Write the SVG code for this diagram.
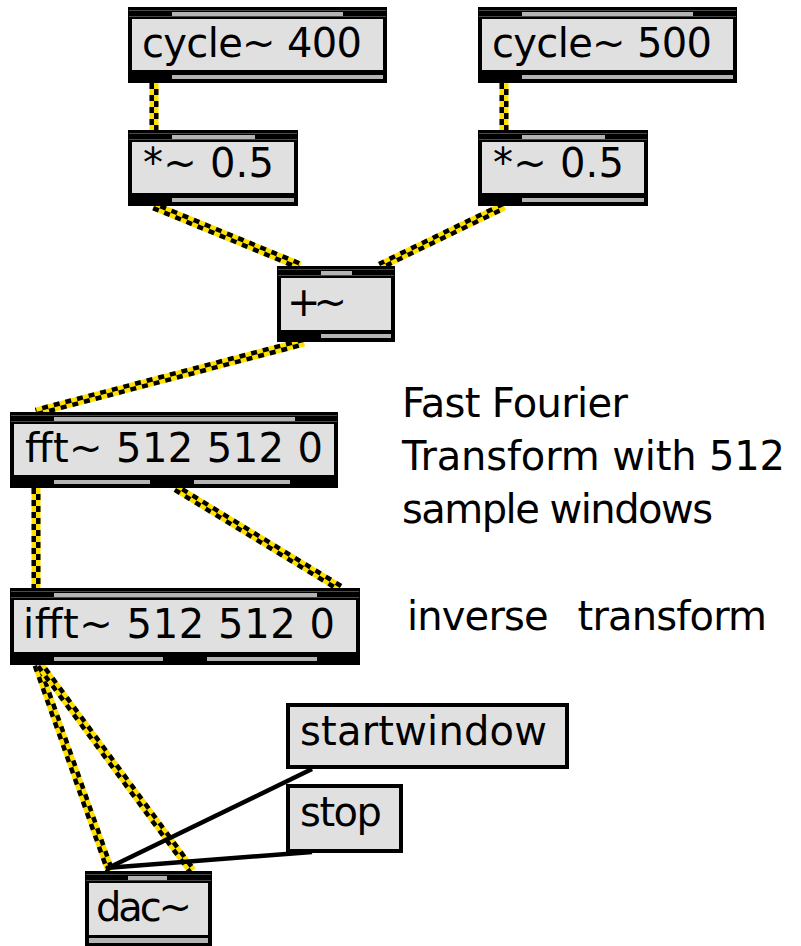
<svg xmlns="http://www.w3.org/2000/svg" width="801" height="946" viewBox="0 0 801 946">
  <style>
    .frame { fill: #000; }
    .body { fill: #e0e0e0; }
    .port { fill: #b4b4b4; }
    .hair { stroke: #4a4a4a; stroke-width: 1; }
    .label { font-family: "DejaVu Sans", "Liberation Sans", sans-serif; font-size: 40px; fill: #000; }
    .sigBase { fill: none; stroke: #ffe100; stroke-width: 9; stroke-linecap: butt; }
    .sigA { fill: none; stroke: #000; stroke-width: 4.5; stroke-dasharray: 6 6; stroke-linecap: butt; }
    .sigB { fill: none; stroke: #000; stroke-width: 4.5; stroke-dasharray: 6 6; stroke-dashoffset: 6; stroke-linecap: butt; }
    .ctl { fill: none; stroke: #000; stroke-width: 4.5; stroke-linecap: butt; }
    .msgbox { fill: #e0e0e0; stroke: #000; stroke-width: 4; }
  </style>
  <rect width="801" height="946" fill="#fff"/>

  <!-- patch cords: signal cords are a yellow band with two offset dashed black halves -->
  <g id="connectors">
    <g id="cord-cycle400-mul">
      <line class="sigBase" x1="154" y1="83" x2="154" y2="130"/>
      <line class="sigA" x1="151.75" y1="83" x2="151.75" y2="130"/>
      <line class="sigB" x1="156.25" y1="83" x2="156.25" y2="130"/>
    </g>
    <g id="cord-cycle500-mul">
      <line class="sigBase" x1="504" y1="83" x2="504" y2="130"/>
      <line class="sigA" x1="501.75" y1="83" x2="501.75" y2="130"/>
      <line class="sigB" x1="506.25" y1="83" x2="506.25" y2="130"/>
    </g>
    <g id="cord-mulL-add">
      <line class="sigBase" x1="154" y1="206" x2="300" y2="266"/>
      <line class="sigA" x1="153.15" y1="208.08" x2="299.15" y2="268.08"/>
      <line class="sigB" x1="154.85" y1="203.92" x2="300.85" y2="263.92"/>
    </g>
    <g id="cord-mulR-add">
      <line class="sigBase" x1="504" y1="206" x2="380" y2="266"/>
      <line class="sigA" x1="503.02" y1="203.97" x2="379.02" y2="263.97"/>
      <line class="sigB" x1="504.98" y1="208.03" x2="380.98" y2="268.03"/>
    </g>
    <g id="cord-add-fft">
      <line class="sigBase" x1="304" y1="342" x2="36" y2="412"/>
      <line class="sigA" x1="303.43" y1="339.82" x2="35.43" y2="409.82"/>
      <line class="sigB" x1="304.57" y1="344.18" x2="36.57" y2="414.18"/>
    </g>
    <g id="cord-fft-ifft-0">
      <line class="sigBase" x1="36" y1="488" x2="36" y2="588"/>
      <line class="sigA" x1="33.75" y1="488" x2="33.75" y2="588"/>
      <line class="sigB" x1="38.25" y1="488" x2="38.25" y2="588"/>
    </g>
    <g id="cord-fft-ifft-1">
      <line class="sigBase" x1="176" y1="488" x2="340" y2="588"/>
      <line class="sigA" x1="174.83" y1="489.92" x2="338.83" y2="589.92"/>
      <line class="sigB" x1="177.17" y1="486.08" x2="341.17" y2="586.08"/>
    </g>
    <g id="cord-ifft-dacL">
      <line class="sigBase" x1="37" y1="665" x2="110" y2="871"/>
      <line class="sigA" x1="34.88" y1="665.75" x2="107.88" y2="871.75"/>
      <line class="sigB" x1="39.12" y1="664.25" x2="112.12" y2="870.25"/>
    </g>
    <g id="cord-ifft-dacR">
      <line class="sigBase" x1="40" y1="665" x2="192" y2="871"/>
      <line class="sigA" x1="38.19" y1="666.34" x2="190.19" y2="872.34"/>
      <line class="sigB" x1="41.81" y1="663.66" x2="193.81" y2="869.66"/>
    </g>
    <line class="ctl" x1="312" y1="769" x2="106" y2="869"/>
    <line class="ctl" x1="312" y1="852" x2="106" y2="868"/>
  </g>

  <!-- cycle~ 400 -->
  <g id="cycle400">
    <rect class="frame" x="128" y="7" width="259" height="76"/>
    <rect class="body" x="132" y="19" width="251" height="51"/>
    <line class="hair" x1="129" y1="10.5" x2="386" y2="10.5"/>
    <line class="hair" x1="129" y1="16.5" x2="386" y2="16.5"/>
    <rect class="port" x="172" y="12" width="171" height="4"/>
    <rect class="port" x="172" y="75" width="211" height="4"/>
    <text class="label" x="142" y="57" textLength="220">cycle~ 400</text>
  </g>

  <!-- cycle~ 500 -->
  <g id="cycle500">
    <rect class="frame" x="478" y="7" width="259" height="76"/>
    <rect class="body" x="482" y="19" width="251" height="51"/>
    <line class="hair" x1="479" y1="10.5" x2="736" y2="10.5"/>
    <line class="hair" x1="479" y1="16.5" x2="736" y2="16.5"/>
    <rect class="port" x="522" y="12" width="171" height="4"/>
    <rect class="port" x="522" y="75" width="211" height="4"/>
    <text class="label" x="492" y="57" textLength="220">cycle~ 500</text>
  </g>

  <!-- *~ 0.5 (left) -->
  <g id="mulLeft">
    <rect class="frame" x="128" y="130" width="170" height="76"/>
    <rect class="body" x="132" y="142" width="162" height="51"/>
    <line class="hair" x1="129" y1="133.5" x2="297" y2="133.5"/>
    <line class="hair" x1="129" y1="139.5" x2="297" y2="139.5"/>
    <rect class="port" x="172" y="135" width="83" height="4"/>
    <rect class="port" x="172" y="198" width="122" height="4"/>
    <text class="label" x="143" y="177" textLength="131">*~ 0.5</text>
  </g>

  <!-- *~ 0.5 (right) -->
  <g id="mulRight">
    <rect class="frame" x="478" y="130" width="170" height="76"/>
    <rect class="body" x="482" y="142" width="162" height="51"/>
    <line class="hair" x1="479" y1="133.5" x2="647" y2="133.5"/>
    <line class="hair" x1="479" y1="139.5" x2="647" y2="139.5"/>
    <rect class="port" x="522" y="135" width="83" height="4"/>
    <rect class="port" x="522" y="198" width="122" height="4"/>
    <text class="label" x="493" y="177" textLength="131">*~ 0.5</text>
  </g>

  <!-- +~ -->
  <g id="add">
    <rect class="frame" x="277" y="266" width="118" height="76"/>
    <rect class="body" x="281" y="278" width="110" height="52"/>
    <line class="hair" x1="278" y1="269.5" x2="394" y2="269.5"/>
    <line class="hair" x1="278" y1="275.5" x2="394" y2="275.5"/>
    <rect class="port" x="321" y="271" width="31" height="4"/>
    <rect class="port" x="321" y="334" width="70" height="4"/>
    <text class="label" x="287" y="316" textLength="60">+~</text>
  </g>

  <!-- fft~ 512 512 0 -->
  <g id="fft">
    <rect class="frame" x="10" y="412" width="328" height="76"/>
    <rect class="body" x="14" y="424" width="320" height="51"/>
    <line class="hair" x1="11" y1="415.5" x2="337" y2="415.5"/>
    <line class="hair" x1="11" y1="421.5" x2="337" y2="421.5"/>
    <rect class="port" x="54" y="417" width="241" height="4"/>
    <rect class="port" x="54" y="480" width="96" height="4"/>
    <rect class="port" x="194" y="480" width="96" height="4"/>
    <text class="label" x="25" y="462" textLength="298">fft~ 512 512 0</text>
  </g>

  <!-- ifft~ 512 512 0 -->
  <g id="ifft">
    <rect class="frame" x="10" y="588" width="350" height="77"/>
    <rect class="body" x="14" y="600" width="342" height="52"/>
    <line class="hair" x1="11" y1="591.5" x2="359" y2="591.5"/>
    <line class="hair" x1="11" y1="597.5" x2="359" y2="597.5"/>
    <rect class="port" x="54" y="593" width="263" height="4"/>
    <rect class="port" x="54" y="657" width="109" height="4"/>
    <rect class="port" x="207" y="657" width="110" height="4"/>
    <text class="label" x="23" y="638" textLength="312">ifft~ 512 512 0</text>
  </g>

  <!-- dac~ -->
  <g id="dac">
    <rect class="frame" x="85" y="871" width="127" height="75"/>
    <rect class="body" x="89" y="883" width="119" height="52"/>
    <line class="hair" x1="86" y1="874.5" x2="211" y2="874.5"/>
    <line class="hair" x1="86" y1="880.5" x2="211" y2="880.5"/>
    <rect class="port" x="128" y="876" width="39" height="4"/>
    <rect class="port" x="89" y="938" width="119" height="5"/>
    <text class="label" x="96" y="921" textLength="96">dac~</text>
  </g>

  <!-- message boxes -->
  <g id="msgStartwindow">
    <rect class="msgbox" x="288" y="705" width="279" height="62"/>
    <text class="label" x="300" y="745" textLength="247">startwindow</text>
  </g>
  <g id="msgStop">
    <rect class="msgbox" x="288" y="786" width="113" height="65"/>
    <text class="label" x="300" y="826" textLength="82">stop</text>
  </g>

  <!-- comments -->
  <g id="commentFft">
    <text class="label" x="402" y="417" textLength="226">Fast Fourier</text>
    <text class="label" x="402" y="470" textLength="383">Transform with 512</text>
    <text class="label" x="402" y="523" textLength="311">sample windows</text>
  </g>
  <g id="commentIfft">
    <text class="label" x="407" y="630" textLength="360" word-spacing="18">inverse transform</text>
  </g>
</svg>
